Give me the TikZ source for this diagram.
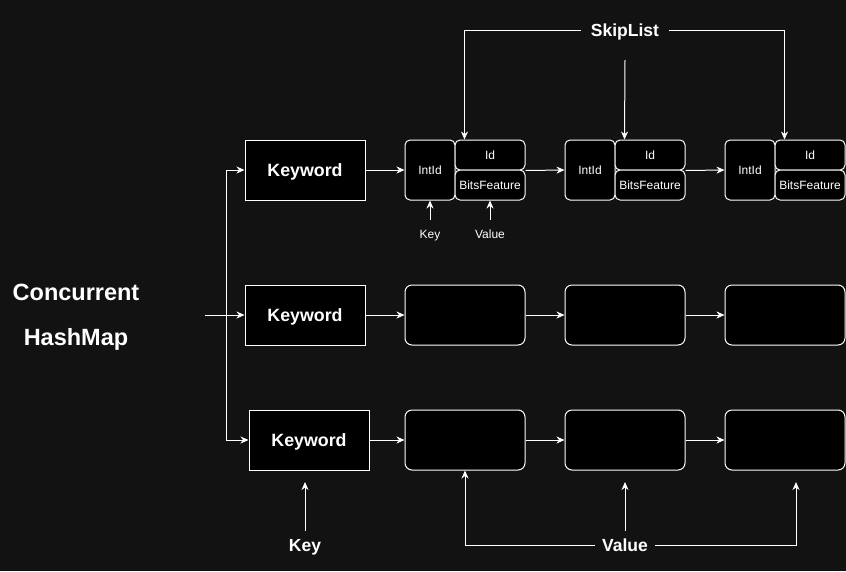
\documentclass[tikz,border=0pt]{standalone}
\usepackage{fontspec}
\setmainfont{Liberation Sans}
\usetikzlibrary{arrows.meta}
\definecolor{canvas}{HTML}{121212}
\begin{document}
\begin{tikzpicture}[x=1pt,y=-1pt,
  link/.style={white,line width=1pt,-{Stealth[length=8pt,width=7pt,inset=2.5pt]}},
  plain/.style={white,line width=1pt},
  kwbox/.style={draw=white,fill=black,line width=1pt,minimum width=120pt,minimum height=60pt,
    inner sep=0pt,text=white,font=\fontsize{17.8}{20}\selectfont\bfseries,text height=12.7pt,text depth=0pt},
  cellbox/.style={draw=white,fill=black,line width=1pt,rounded corners=7pt,minimum width=120pt,minimum height=60pt},
  part/.style={draw=white,fill=black,line width=1pt,rounded corners=5pt,inner sep=0pt,
    text=white,font=\fontsize{12}{14}\selectfont,text height=8.6pt,text depth=0pt},
  small/.style={text=white,font=\fontsize{12}{14}\selectfont,text height=8.6pt,text depth=0pt,inner xsep=0pt,inner ysep=10pt},
  caption/.style={text=white,font=\fontsize{17.5}{20}\selectfont\bfseries,text height=12.5pt,text depth=0pt,inner xsep=7pt,inner ysep=8.5pt},
  title/.style={text=white,font=\fontsize{23.5}{26}\selectfont\bfseries,text height=16.8pt,text depth=0pt,inner sep=0pt}]

% canvas
\fill[canvas] (0,0) rectangle (846,571);
\useasboundingbox (0,0) rectangle (846,571);

% map title
\node[title] (t1) at (76,292.5) {Concurrent};
\node[title] (t2) at (76,337.5) {HashMap};

% keyword buckets
\node[kwbox] (kw1) at (305,170) {Keyword};
\node[kwbox] (kw2) at (305,315) {Keyword};
\node[kwbox] (kw3) at (309,440) {Keyword};

% entry fan-out
\coordinate (in) at (205,315);
\coordinate (split) at (226,315);
\draw[link] (in) -- (kw2.west);
\draw[link] (split) |- (kw1.west);
\draw[link] (split) |- (kw3.west);

% skip list nodes with fields (first row)
\foreach \i/\x in {1/405,2/565,3/725}{
  \node[part,minimum width=50pt,minimum height=60pt] (a\i) at (\x+25,170) {IntId};
  \node[part,minimum width=70pt,minimum height=30pt] (id\i) at (\x+85,155) {Id};
  \node[part,minimum width=70pt,minimum height=30pt] (bf\i) at (\x+85,185) {BitsFeature};
}
\draw[link] (kw1.east) -- (a1.west);
\draw[link] (id1.south east) -- (a2.west);
\draw[link] (id2.south east) -- (a3.west);

% field legend
\node[small] (k1) at (430,234.5) {Key};
\node[small] (v1) at (490,234.5) {Value};
\draw[link] (k1.north) -- (a1.south);
\draw[link] (v1.north) -- (bf1.south);

% skip list label
\node[caption,inner xsep=10pt] (skip) at (625,30) {SkipList};
\coordinate (skipmid) at (625,60);
\draw[link] (skip.west) -| ([xshift=10pt]id1.north west);
\draw[link] (skipmid) -- ([xshift=10pt]id2.north west);
\draw[link] (skip.east) -| ([xshift=10pt]id3.north west);

% plain skip list nodes
\foreach \r/\y in {2/315,3/440}{
  \foreach \c/\x in {1/465,2/625,3/785}{
    \node[cellbox] (r\r c\c) at (\x,\y) {};
  }
}
\draw[link] (kw2.east) -- (r2c1.west);
\draw[link] (r2c1.east) -- (r2c2.west);
\draw[link] (r2c2.east) -- (r2c3.west);
\draw[link] (kw3.east) -- (r3c1.west);
\draw[link] (r3c1.east) -- (r3c2.west);
\draw[link] (r3c2.east) -- (r3c3.west);

% bottom legend
\node[caption] (keyb) at (305,545.5) {Key};
\coordinate (keytip) at (305,482);
\draw[link] (keyb.north) -- (keytip);

\node[caption,inner xsep=7pt] (valb) at (625,545.5) {Value};
\coordinate (valmid) at (625,482);
\coordinate (valright) at (796,482);
\draw[link] (valb.north) -- (valmid);
\draw[link] (valb.west) -| (r3c1.south);
\draw[link] (valb.east) -| (valright);
\end{tikzpicture}
\end{document}
